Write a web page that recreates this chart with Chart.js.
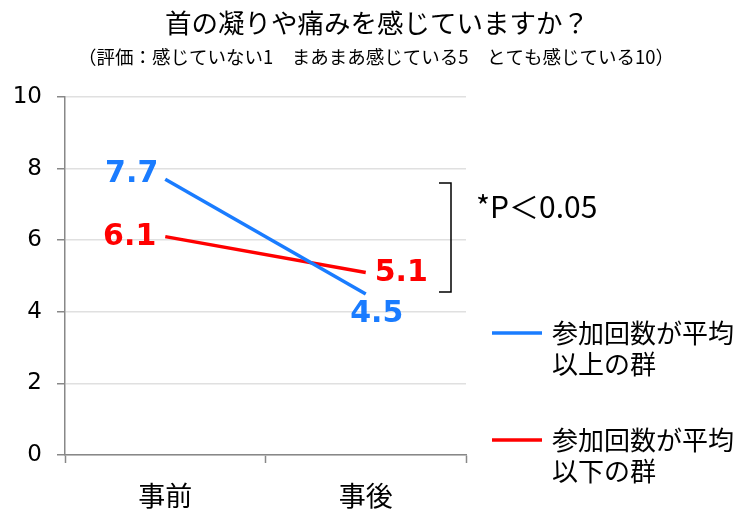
<!DOCTYPE html>
<html>
<head>
<meta charset="utf-8">
<script src="https://cdn.jsdelivr.net/npm/chart.js@4"></script>
<style>
  html, body { margin: 0; padding: 0; background: #fff; }
  #wrap { width: 750px; height: 520px; }
</style>
</head>
<body>
<div id="wrap"><canvas id="c" width="750" height="520"></canvas></div>
<script>
const categories = ['事前', '事後'];
const aboveAvg = [7.7, 4.5];
const belowAvg = [6.1, 5.1];
const seriesNames = [['参加回数が平均', '以上の群'], ['参加回数が平均', '以下の群']];
const yTicks = [0, 2, 4, 6, 8, 10];
const titleText = '首の凝りや痛みを感じていますか？';
const subtitleText = '（評価：感じていない1　まあまあ感じている5　とても感じている10）';
const pText = '*P＜0.05';

const BLUE = '#1a7cff';
const RED = '#ff0000';
const JP = '"Noto Sans CJK JP", "DejaVu Sans", sans-serif';
const NUM = '"DejaVu Sans", "Noto Sans CJK JP", sans-serif';

// label offsets per dataset/point: [dx, dy, align]
const labelPos = [
  [[-7, -5, 'right'], [11, 20, 'center']],
  [[-9, 1, 'right'], [9, 1, 'left']],
];

const extras = {
  id: 'extras',
  afterDatasetsDraw(chart) {
    const ctx = chart.ctx;
    const area = chart.chartArea;
    const y = chart.scales.y;
    ctx.save();

    // titles
    ctx.fillStyle = '#000';
    ctx.textAlign = 'center';
    ctx.textBaseline = 'middle';
    ctx.font = '26.5px ' + JP;
    ctx.fillText(titleText, 377, 23);
    ctx.font = '18.5px ' + JP;
    ctx.fillText(subtitleText, 376, 57);

    // data labels
    ctx.font = 'bold 30px ' + NUM;
    chart.data.datasets.forEach((ds, i) => {
      const meta = chart.getDatasetMeta(i);
      ctx.fillStyle = ds.borderColor;
      meta.data.forEach((pt, j) => {
        const [dx, dy, al] = labelPos[i][j];
        ctx.textAlign = al;
        ctx.fillText(ds.data[j].toFixed(1), pt.x + dx, pt.y + dy);
      });
    });

    // significance bracket
    const bx = area.right - 15;
    const top = y.getPixelForValue(7.6);
    const bot = y.getPixelForValue(4.55);
    ctx.strokeStyle = '#000';
    ctx.lineWidth = 1.5;
    ctx.beginPath();
    ctx.moveTo(bx - 12, top);
    ctx.lineTo(bx, top);
    ctx.lineTo(bx, bot);
    ctx.lineTo(bx - 12, bot);
    ctx.stroke();
    ctx.fillStyle = '#000';
    ctx.textAlign = 'left';
    ctx.font = '30px ' + JP;
    ctx.fillText(pText, 476, 207);

    // legend
    ctx.font = '26px ' + JP;
    const legY = [333, 440];
    chart.data.datasets.forEach((ds, i) => {
      ctx.strokeStyle = ds.borderColor;
      ctx.lineWidth = 3.5;
      ctx.beginPath();
      ctx.moveTo(492, legY[i]);
      ctx.lineTo(542, legY[i]);
      ctx.stroke();
      ctx.fillStyle = '#000';
      seriesNames[i].forEach((t, k) => ctx.fillText(t, 552, legY[i] + k * 31));
    });
    ctx.restore();
  }
};

new Chart(document.getElementById('c'), {
  type: 'line',
  data: {
    labels: categories,
    datasets: [
      { label: seriesNames[0].join(''), data: aboveAvg, borderColor: BLUE, borderWidth: 3.5, pointRadius: 0, tension: 0 },
      { label: seriesNames[1].join(''), data: belowAvg, borderColor: RED, borderWidth: 3.5, pointRadius: 0, tension: 0 },
    ],
  },
  options: {
    responsive: false,
    animation: false,
    layout: { padding: { top: 97, right: 284, left: 0, bottom: 0 } },
    plugins: {
      legend: { display: false },
      tooltip: { enabled: false },
      title: { display: false },
    },
    scales: {
      x: {
        offset: true,
        grid: { offset: true, drawOnChartArea: false, drawTicks: true, tickLength: 8, tickColor: '#888', tickWidth: 1.5 },
        border: { color: '#888', width: 1.5 },
        ticks: { color: '#000', font: { size: 27, family: JP }, padding: 17 },
        afterFit(s) { s.height = 65; },
      },
      y: {
        min: 0,
        max: 10,
        afterBuildTicks(s) { s.ticks = yTicks.map(v => ({ value: v })); },
        grid: { color: '#e0e0e0', lineWidth: 1.5, tickLength: 8, tickColor: '#888' },
        border: { color: '#888', width: 1.5 },
        ticks: { color: '#000', font: { size: 23, family: NUM }, padding: 15 },
        afterFit(s) { s.width = 65; },
      },
    },
  },
  plugins: [extras],
});
</script>
</body>
</html>
